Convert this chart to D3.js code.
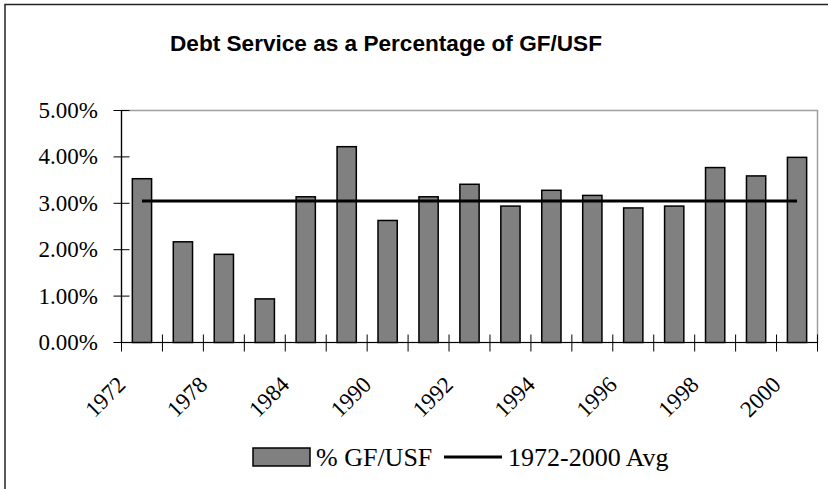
<!DOCTYPE html>
<html>
<head>
<meta charset="utf-8">
<script src="https://cdn.jsdelivr.net/npm/d3@7"></script>
<style>
  html, body { margin: 0; padding: 0; background: #fff; }
  svg { display: block; }
</style>
</head>
<body>
<svg id="chart" width="828" height="489"></svg>
<script>
const categories = ["1972","1975","1978","1981","1984","1987","1990","1991","1992","1993","1994","1995","1996","1997","1998","1999","2000"];
const pctValues = [3.53, 2.17, 1.90, 0.94, 3.14, 4.22, 2.63, 3.14, 3.41, 2.94, 3.28, 3.17, 2.90, 2.94, 3.77, 3.59, 3.99];
const avgValue = 3.05;
const yTicks = [0, 1, 2, 3, 4, 5];
const shownLabels = ["1972","1978","1984","1990","1992","1994","1996","1998","2000"];
const titleText = "Debt Service as a Percentage of GF/USF";
const legendLabels = ["% GF/USF", "1972-2000 Avg"];

const svg = d3.select("#chart");
const pLeft = 121.5, pRight = 817.5, pTop = 110.5, pBottom = 342.5;

// outer chart frame
svg.append("rect").attr("x", 5).attr("y", 4.5).attr("width", 900).attr("height", 600)
  .attr("fill", "none").attr("stroke", "#222").attr("stroke-width", 1.5);

const x = d3.scaleBand().domain(categories).range([pLeft, pRight]).padding(0);
const xb = d3.scaleBand().domain(categories).range([pLeft, pRight]).paddingInner(0.53).paddingOuter(0.265);
const y = d3.scaleLinear().domain([0, 5]).range([pBottom, pTop]);

// plot area border
svg.append("rect").attr("x", pLeft).attr("y", pTop).attr("width", pRight - pLeft).attr("height", pBottom - pTop)
  .attr("fill", "none").attr("stroke", "#a0a0a0").attr("stroke-width", 1.5);

// bars
svg.append("g").selectAll("rect").data(pctValues).join("rect")
  .attr("x", (d, i) => xb(categories[i]))
  .attr("y", d => y(d))
  .attr("width", xb.bandwidth())
  .attr("height", d => y(0) - y(d))
  .attr("fill", "#808080").attr("stroke", "#000").attr("stroke-width", 1.5);

// average line
svg.append("line")
  .attr("x1", x(categories[0]) + x.bandwidth() / 2)
  .attr("x2", x(categories[categories.length - 1]) + x.bandwidth() / 2)
  .attr("y1", y(avgValue)).attr("y2", y(avgValue))
  .attr("stroke", "#000").attr("stroke-width", 3);

// y axis
const ya = svg.append("g");
ya.append("line").attr("x1", pLeft).attr("x2", pLeft).attr("y1", pTop).attr("y2", pBottom)
  .attr("stroke", "#000").attr("stroke-width", 1.2);
ya.selectAll("line.t").data(yTicks).join("line").attr("class", "t")
  .attr("x1", pLeft - 8).attr("x2", pLeft + 8)
  .attr("y1", d => y(d)).attr("y2", d => y(d))
  .attr("stroke", "#000").attr("stroke-width", 1);
ya.selectAll("text").data(yTicks).join("text")
  .attr("x", 98).attr("y", d => y(d) + 7.5)
  .attr("text-anchor", "end")
  .attr("font-family", "'Liberation Serif', 'Times New Roman', serif")
  .attr("font-size", 23)
  .text(d => d.toFixed(2) + "%");

// x axis
const xa = svg.append("g");
xa.append("line").attr("x1", pLeft).attr("x2", pRight).attr("y1", pBottom).attr("y2", pBottom)
  .attr("stroke", "#000").attr("stroke-width", 1.2);
const bounds = categories.map(c => x(c)).concat([pRight]);
xa.selectAll("line.t").data(bounds).join("line").attr("class", "t")
  .attr("x1", d => d).attr("x2", d => d)
  .attr("y1", pBottom - 8).attr("y2", pBottom + 9)
  .attr("stroke", "#000").attr("stroke-width", 1);
xa.selectAll("text").data(categories.filter(c => shownLabels.includes(c))).join("text")
  .attr("transform", c => `translate(${x(c) + x.bandwidth() / 2 - 15},${386}) rotate(-45)`)
  .attr("text-anchor", "end")
  .attr("font-family", "'Liberation Serif', 'Times New Roman', serif")
  .attr("font-size", 23)
  .text(c => c);

// title
svg.append("text").attr("x", 386).attr("y", 51)
  .attr("text-anchor", "middle")
  .attr("font-family", "'Liberation Sans', Arial, sans-serif")
  .attr("font-weight", "bold").attr("font-size", 22.6)
  .text(titleText);

// legend
const lg = svg.append("g");
lg.append("rect").attr("x", 253).attr("y", 448).attr("width", 57).attr("height", 18)
  .attr("fill", "#808080").attr("stroke", "#000").attr("stroke-width", 1.5);
lg.append("text").attr("x", 316).attr("y", 466)
  .attr("font-family", "'Liberation Serif', 'Times New Roman', serif").attr("font-size", 26)
  .text(legendLabels[0]);
lg.append("line").attr("x1", 444).attr("x2", 502).attr("y1", 457).attr("y2", 457)
  .attr("stroke", "#000").attr("stroke-width", 3);
lg.append("text").attr("x", 508).attr("y", 466)
  .attr("font-family", "'Liberation Serif', 'Times New Roman', serif").attr("font-size", 26)
  .text(legendLabels[1]);
</script>
</body>
</html>
